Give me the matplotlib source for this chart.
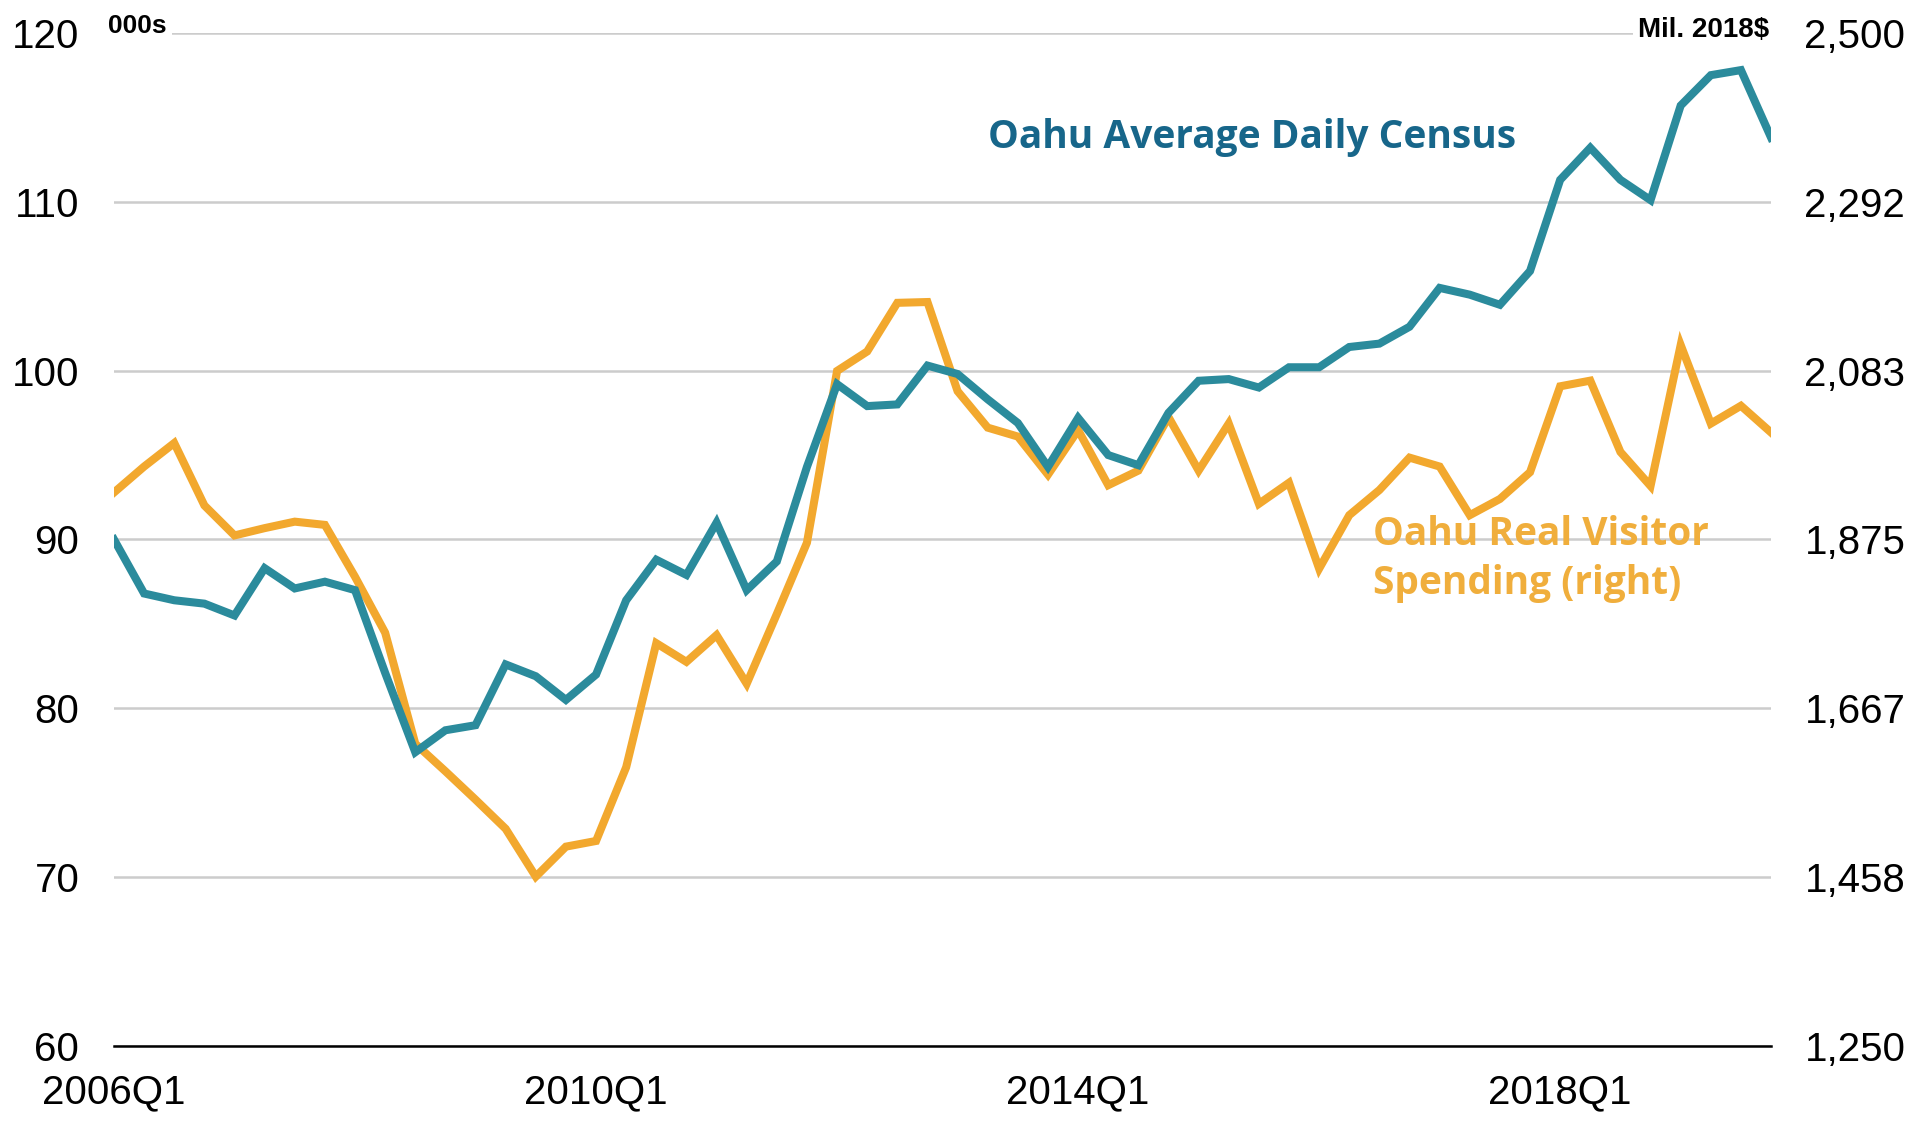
import matplotlib.pyplot as plt
import numpy as np

# quarterly data, 2006Q1 .. 2019Q4
quarters = [f"{y}Q{q}" for y in range(2006, 2020) for q in range(1, 5)]

# Oahu average daily census (000s, left axis)
census = [90.0, 86.8, 86.4, 86.2, 85.5, 88.3, 87.1, 87.5, 87.0, 82.1,
          77.4, 78.7, 79.0, 82.6, 81.9, 80.5, 82.0, 86.4, 88.8, 87.9,
          91.0, 87.0, 88.7, 94.3, 99.2, 97.9, 98.0, 100.3, 99.8, 98.3,
          96.9, 94.3, 97.2, 95.0, 94.4, 97.5, 99.4, 99.5, 99.0, 100.2,
          100.2, 101.4, 101.6, 102.6, 104.9, 104.5, 103.9, 105.9, 111.3, 113.2,
          111.3, 110.1, 115.7, 117.5, 117.8, 113.8]

# Oahu real visitor spending (Mil. 2018$, right axis)
spending = [1933, 1965, 1994, 1917, 1880, 1889, 1897, 1893, 1829, 1760,
            1623, 1589, 1554, 1518, 1459, 1496, 1503, 1594, 1747, 1724,
            1757, 1697, 1783, 1871, 2083, 2107, 2167, 2168, 2058, 2013,
            2002, 1955, 2010, 1942, 1960, 2026, 1960, 2018, 1919, 1945,
            1839, 1905, 1936, 1976, 1965, 1905, 1925, 1958, 2064, 2071,
            1983, 1941, 2115, 2018, 2040, 2007]

left_ticks = [60, 70, 80, 90, 100, 110, 120]
right_ticks = [1250, 1458.33, 1666.67, 1875, 2083.33, 2291.67, 2500]
right_labels = ["1,250", "1,458", "1,667", "1,875", "2,083", "2,292", "2,500"]
x_tick_labels = ["2006Q1", "2010Q1", "2014Q1", "2018Q1"]

teal = "#2b8b9c"
teal_text = "#17668a"
orange = "#f2a82e"
orange_text = "#f0ae3c"
tick_font = ["Liberation Sans", "DejaVu Sans"]
label_font = ["Open Sans", "DejaVu Sans"]

x = np.arange(len(quarters))

fig = plt.figure(figsize=(19.32, 11.21), dpi=100)
ax = fig.add_axes([0.059, 0.0669, 0.8577, 0.9037])
ax2 = ax.twinx()

# grid and orange on the right axis (underneath), teal on top
ax2.set_ylim(1250, 2500)
ax2.set_yticks(right_ticks, right_labels)
ax2.yaxis.grid(True, color="#cccccc", lw=1.8)
ax2.plot(x, spending, color=orange, lw=5.8, solid_joinstyle="miter")

ax.set_zorder(ax2.get_zorder() + 1)
ax.patch.set_visible(False)
ax.plot(x, census, color=teal, lw=5.8, solid_joinstyle="miter")
ax.set_ylim(60, 120)
ax.set_xlim(0, len(quarters) - 1)
ax.set_yticks(left_ticks)
ax.set_xticks([quarters.index(q) for q in x_tick_labels], x_tick_labels)

for a in (ax, ax2):
    for s in ("top", "left", "right", "bottom"):
        a.spines[s].set_visible(False)
ax.spines["bottom"].set_visible(True)
ax.spines["bottom"].set_linewidth(1.8)
ax.spines["bottom"].set_color("black")

ax.tick_params(axis="y", length=0, pad=25, labelsize=29)
ax.tick_params(axis="x", length=0, pad=20, labelsize=29)
ax2.tick_params(axis="y", length=0, pad=24, labelsize=29)
for lab in ax.get_xticklabels() + ax.get_yticklabels() + ax2.get_yticklabels():
    lab.set_family(tick_font)

# unit labels sitting on the top gridline
ax.text(-0.2, 120, "000s", fontsize=19, fontweight="bold", family=tick_font,
        va="baseline", ha="left",
        bbox=dict(facecolor="white", edgecolor="none", pad=4), zorder=5)
ax.text(54.95, 119.75, "Mil. 2018$", fontsize=20, fontweight="bold", family=tick_font,
        va="baseline", ha="right",
        bbox=dict(facecolor="white", edgecolor="none", pad=4), zorder=5)

ax.text(29.0, 113.2, "Oahu Average Daily Census", color=teal_text, fontsize=28,
        fontweight="bold", family=label_font, va="baseline", ha="left")
ax.text(41.8, 89.7, "Oahu Real Visitor", color=orange_text, fontsize=28,
        fontweight="bold", family=label_font, va="baseline", ha="left")
ax.text(41.8, 86.8, "Spending (right)", color=orange_text, fontsize=28,
        fontweight="bold", family=label_font, va="baseline", ha="left")

fig.savefig("out.png", dpi=100)
